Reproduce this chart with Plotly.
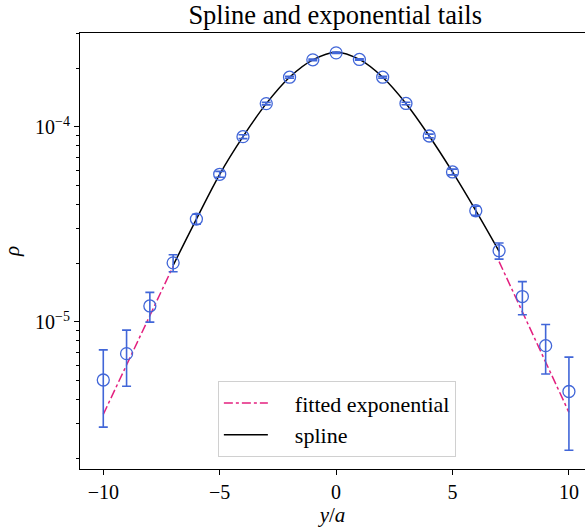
import plotly.graph_objects as go

# ---- data ----
x_points = [-10, -9, -8, -7, -6, -5, -4, -3, -2, -1, 0, 1, 2, 3, 4, 5, 6, 7, 8, 9, 10]
rho = [5.04e-6, 6.88e-6, 1.208e-5, 2.01e-5, 3.37e-5, 5.72e-5, 8.92e-5, 1.318e-4, 1.80e-4, 2.21e-4,
       2.40e-4, 2.22e-4, 1.80e-4, 1.32e-4, 8.99e-5, 5.88e-5, 3.72e-5, 2.32e-5, 1.35e-5, 7.56e-6, 4.40e-6]
rho_err = [2.15e-6, 2.2e-6, 2.1e-6, 2.0e-6, 2.0e-6, 2.0e-6, 2.0e-6, 2.0e-6, 2.0e-6, 2.0e-6,
           2.0e-6, 2.0e-6, 2.0e-6, 2.0e-6, 2.0e-6, 2.0e-6, 2.0e-6, 2.2e-6, 2.6e-6, 2.15e-6, 2.2e-6]

spline_x = [-7, -6, -5, -4, -3, -2, -1, 0, 1, 2, 3, 4, 5, 6, 7]
spline_rho = [1.95e-5, 3.37e-5, 5.72e-5, 8.92e-5, 1.318e-4, 1.80e-4, 2.21e-4, 2.42e-4,
              2.22e-4, 1.80e-4, 1.32e-4, 8.99e-5, 5.88e-5, 3.72e-5, 2.30e-5]

exp_left_x = [-10, -7]
exp_left_rho = [3.36e-6, 1.93e-5]
exp_right_x = [7, 10]
exp_right_rho = [2.04e-5, 3.44e-6]

x_tickvals = [-10, -5, 0, 5, 10]
x_ticktext = ["\u221210", "\u22125", "0", "5", "10"]
y_tickvals = [1e-5, 1e-4]
y_ticktext = ["10<sup>\u22125</sup>", "10<sup>\u22124</sup>"]
y_minor = [2e-6, 3e-6, 4e-6, 5e-6, 6e-6, 7e-6, 8e-6, 9e-6,
           2e-5, 3e-5, 4e-5, 5e-5, 6e-5, 7e-5, 8e-5, 9e-5, 2e-4, 3e-4]

FONT = "Liberation Serif"
BLUE = "#4166d8"
PINK = "#e3207f"
GAP = "\u2002\u2002"

fig = go.Figure()

fig.add_trace(go.Scatter(
    x=exp_left_x, y=exp_left_rho, mode="lines", name=GAP + "fitted exponential",
    line=dict(color=PINK, width=1.5, dash="dashdot"), legendrank=1, showlegend=True))
fig.add_trace(go.Scatter(
    x=exp_right_x, y=exp_right_rho, mode="lines", name="fitted exponential",
    line=dict(color=PINK, width=1.5, dash="dashdot"), showlegend=False))
fig.add_trace(go.Scatter(
    x=spline_x, y=spline_rho, mode="lines", name=GAP + "spline",
    line=dict(color="black", width=1.5, shape="spline", smoothing=1.0), legendrank=2))
fig.add_trace(go.Scatter(
    x=x_points, y=rho, mode="markers", showlegend=False,
    marker=dict(symbol="circle-open", size=12, color=BLUE, line=dict(width=1.3, color=BLUE)),
    error_y=dict(type="data", array=rho_err, visible=True, color=BLUE, thickness=1.6, width=4.5)))

fig.update_layout(
    width=585, height=529,
    margin=dict(l=80, r=0, t=33, b=60),
    paper_bgcolor="white", plot_bgcolor="white",
    font=dict(family=FONT, color="black", size=20),
    title=dict(text="Spline and exponential tails", x=0.573, xanchor="center",
               y=0.972, yanchor="middle", font=dict(size=26.5, family=FONT)),
    legend=dict(x=0.273, y=0.027, xanchor="left", yanchor="bottom",
                bgcolor="white", bordercolor="#d0d0d0", borderwidth=1,
                font=dict(size=22, family=FONT), tracegroupgap=0, itemwidth=44),
    showlegend=True,
)

fig.update_xaxes(
    range=[-11, 10.69], tickmode="array", tickvals=x_tickvals, ticktext=x_ticktext,
    ticks="outside", ticklen=5, tickwidth=1.1, tickcolor="black",
    showline=True, linecolor="black", linewidth=1.1, mirror=True,
    showgrid=False, zeroline=False,
    tickfont=dict(size=20, family=FONT),
    title=dict(text="<i>y</i>/<i>a</i>", font=dict(size=21, family=FONT), standoff=3),
)
fig.update_yaxes(
    type="log", range=[-5.754, -3.518], tickmode="array", tickvals=y_tickvals, ticktext=y_ticktext,
    ticks="outside", ticklen=5, tickwidth=1.1, tickcolor="black",
    minor=dict(tickmode="array", tickvals=y_minor, ticks="outside", ticklen=3,
               tickwidth=0.9, tickcolor="black", showgrid=False),
    showline=True, linecolor="black", linewidth=1.1, mirror=False,
    showgrid=False, zeroline=False,
    tickfont=dict(size=20, family=FONT),
    title=dict(text="<i>\u03c1</i>", font=dict(size=21, family=FONT), standoff=12),
)

fig.write_html(
    "out.html",
    config={"displayModeBar": False},
    post_script="document.body.style.margin='0';document.body.style.overflow='hidden';",
)
